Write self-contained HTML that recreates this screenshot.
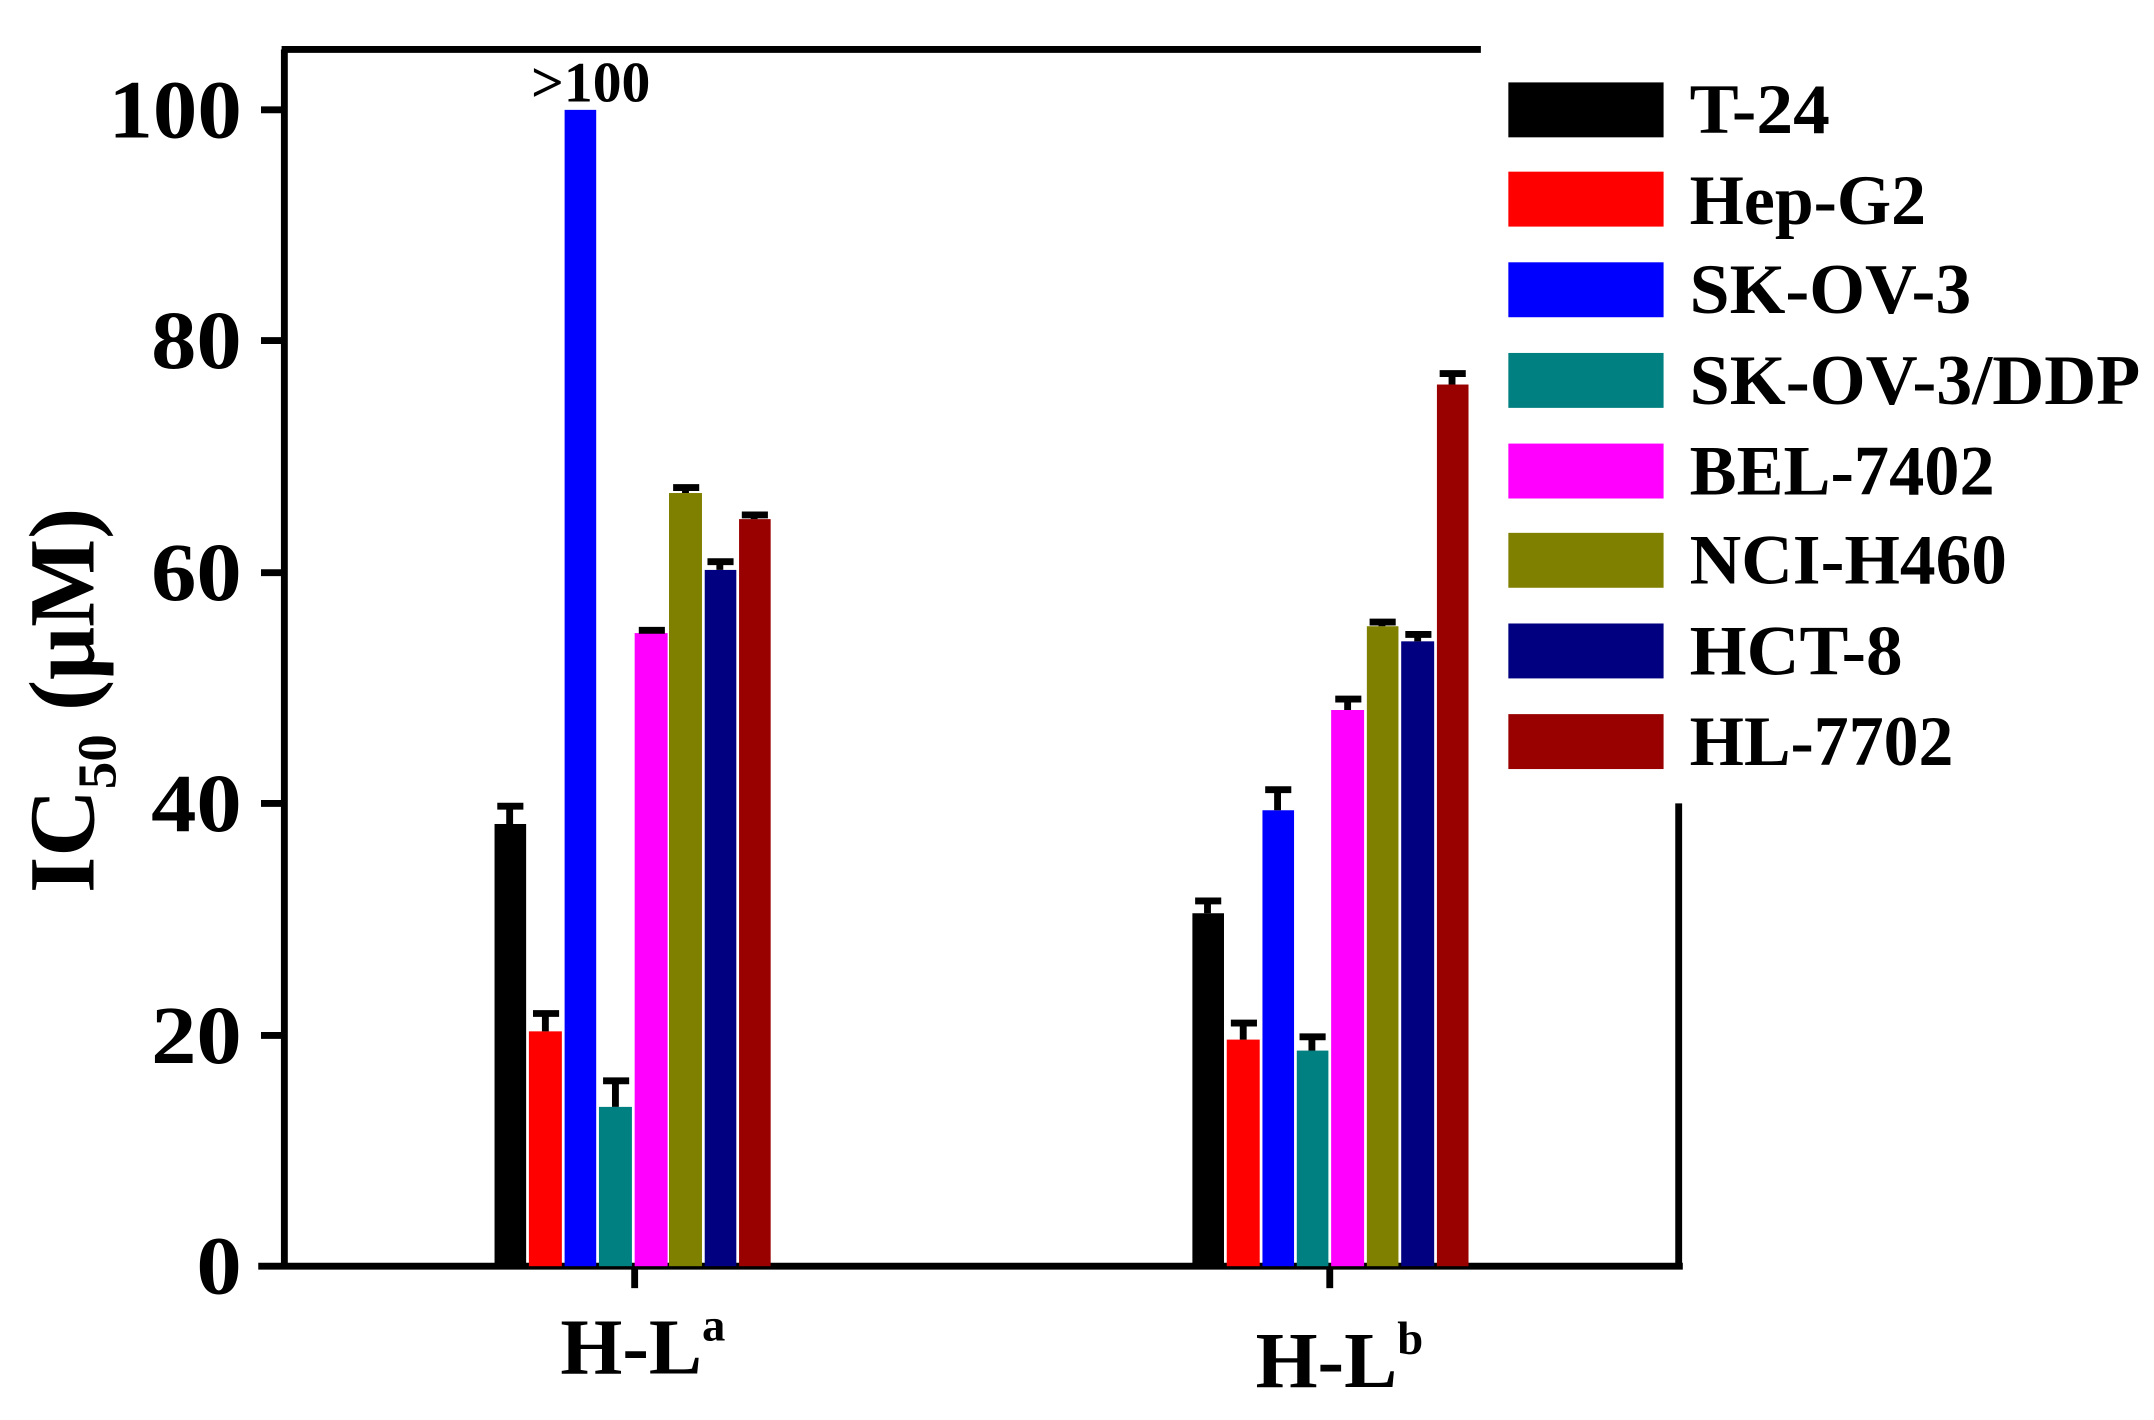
<!DOCTYPE html>
<html><head><meta charset="utf-8"><style>html,body{margin:0;padding:0;background:#fff}svg{display:block}</style></head>
<body>
<svg width="2154" height="1420" viewBox="0 0 1568 1034" preserveAspectRatio="none" xmlns="http://www.w3.org/2000/svg" font-family="Liberation Serif, serif" font-weight="bold">
<g stroke="#000" stroke-width="5" fill="none">
<line x1="205" y1="36" x2="1078" y2="36"/>
<line x1="207" y1="36" x2="207" y2="924"/>
<line x1="188" y1="922" x2="1225" y2="922"/>
<line x1="1222" y1="585" x2="1222" y2="924"/>
<line x1="462" y1="922" x2="462" y2="938"/>
<line x1="968" y1="922" x2="968" y2="938"/>
<line x1="190" y1="80" x2="207" y2="80"/>
<line x1="190" y1="248" x2="207" y2="248"/>
<line x1="190" y1="417" x2="207" y2="417"/>
<line x1="190" y1="585" x2="207" y2="585"/>
<line x1="190" y1="754" x2="207" y2="754"/>
</g>
<g font-size="60" text-anchor="end" fill="#000">
<text x="176" y="100" textLength="97" lengthAdjust="spacingAndGlyphs">100</text>
<text x="176" y="268" textLength="66" lengthAdjust="spacingAndGlyphs">80</text>
<text x="176" y="437" textLength="66" lengthAdjust="spacingAndGlyphs">60</text>
<text x="176" y="605" textLength="66" lengthAdjust="spacingAndGlyphs">40</text>
<text x="176" y="774" textLength="66" lengthAdjust="spacingAndGlyphs">20</text>
<text x="176" y="942" textLength="33" lengthAdjust="spacingAndGlyphs">0</text>
</g>
<text transform="translate(68,510) rotate(-90)" font-size="68" text-anchor="middle">IC<tspan font-size="40" dy="16">50</tspan><tspan dy="-16"> (μM)</tspan></text>
<text x="468" y="1000" font-size="58" text-anchor="middle">H-L<tspan font-size="34" dy="-24">a</tspan></text>
<text x="975" y="1010" font-size="58" text-anchor="middle">H-L<tspan font-size="34" dy="-24">b</tspan></text>
<text x="430" y="74" font-size="42" text-anchor="middle">&gt;100</text>
<g>
<rect x="360" y="600" width="23" height="322" fill="#000"/>
<rect x="385" y="751" width="24" height="171" fill="#ff0000"/>
<rect x="411" y="80" width="23" height="842" fill="#0000ff"/>
<rect x="436" y="806" width="24" height="116" fill="#008080"/>
<rect x="462" y="461" width="24" height="461" fill="#ff00ff"/>
<rect x="487" y="359" width="24" height="563" fill="#808000"/>
<rect x="513" y="415" width="23" height="507" fill="#000080"/>
<rect x="538" y="378" width="23" height="544" fill="#990000"/>
<rect x="868" y="665" width="23" height="257" fill="#000"/>
<rect x="893" y="757" width="24" height="165" fill="#ff0000"/>
<rect x="919" y="590" width="23" height="332" fill="#0000ff"/>
<rect x="944" y="765" width="23" height="157" fill="#008080"/>
<rect x="969" y="517" width="24" height="405" fill="#ff00ff"/>
<rect x="995" y="456" width="23" height="466" fill="#808000"/>
<rect x="1020" y="467" width="24" height="455" fill="#000080"/>
<rect x="1046" y="280" width="23" height="642" fill="#990000"/>
</g>
<g stroke="#000" stroke-width="5">
<path d="M371 600V587M362 587h19"/>
<path d="M397 751V738M388 738h19"/>
<path d="M448 806V787M439 787h19"/>
<path d="M474 461V459M465 459h19"/>
<path d="M499 359V355M490 355h19"/>
<path d="M524 415V409M515 409h19"/>
<path d="M549 378V375M540 375h19"/>
<path d="M879 665V656M870 656h19"/>
<path d="M905 757V745M896 745h19"/>
<path d="M930 590V575M921 575h19"/>
<path d="M955 765V755M946 755h19"/>
<path d="M981 517V509M972 509h19"/>
<path d="M1006 456V453M997 453h19"/>
<path d="M1032 467V462M1023 462h19"/>
<path d="M1057 280V272M1048 272h19"/>
</g>
<g font-size="52" fill="#000">
<rect x="1098" y="60" width="113" height="40" fill="#000"/><text x="1230" y="97" textLength="102" lengthAdjust="spacingAndGlyphs">T-24</text>
<rect x="1098" y="125" width="113" height="40" fill="#ff0000"/><text x="1230" y="163" textLength="172" lengthAdjust="spacingAndGlyphs">Hep-G2</text>
<rect x="1098" y="191" width="113" height="40" fill="#0000ff"/><text x="1230" y="228" textLength="205" lengthAdjust="spacingAndGlyphs">SK-OV-3</text>
<rect x="1098" y="257" width="113" height="40" fill="#008080"/><text x="1230" y="294" textLength="328" lengthAdjust="spacingAndGlyphs">SK-OV-3/DDP</text>
<rect x="1098" y="323" width="113" height="40" fill="#ff00ff"/><text x="1230" y="360" textLength="222" lengthAdjust="spacingAndGlyphs">BEL-7402</text>
<rect x="1098" y="388" width="113" height="40" fill="#808000"/><text x="1230" y="425" textLength="231" lengthAdjust="spacingAndGlyphs">NCI-H460</text>
<rect x="1098" y="454" width="113" height="40" fill="#000080"/><text x="1230" y="491" textLength="155" lengthAdjust="spacingAndGlyphs">HCT-8</text>
<rect x="1098" y="520" width="113" height="40" fill="#990000"/><text x="1230" y="557" textLength="192" lengthAdjust="spacingAndGlyphs">HL-7702</text>
</g>
</svg>
</body></html>
